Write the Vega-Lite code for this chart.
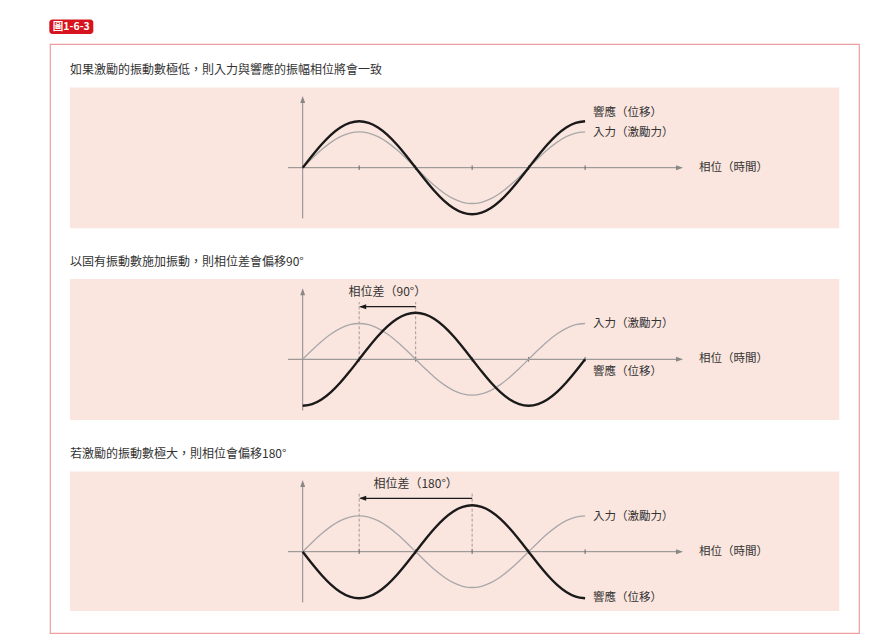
{
"$schema": "https://vega.github.io/schema/vega-lite/v6.json",
"width": 809, "height": 589,
"autosize": "none",
"padding": {"left": 50, "top": 44, "right": 19, "bottom": 10},
"background": "white",
"config": {"view": {"stroke": "#ef9f9f", "strokeWidth": 1.2, "fill": "white"}, "font": "Noto Sans CJK TC"},
"datasets": {
"inp": [{"t":0,"v":0},{"t":15,"v":0.1993},{"t":30,"v":0.385},{"t":45,"v":0.5445},{"t":60,"v":0.6668},{"t":75,"v":0.7437},{"t":90,"v":0.77},{"t":105,"v":0.7437},{"t":120,"v":0.6668},{"t":135,"v":0.5445},{"t":150,"v":0.385},{"t":165,"v":0.1993},{"t":180,"v":0},{"t":195,"v":-0.1993},{"t":210,"v":-0.385},{"t":225,"v":-0.5445},{"t":240,"v":-0.6668},{"t":255,"v":-0.7437},{"t":270,"v":-0.77},{"t":285,"v":-0.7437},{"t":300,"v":-0.6668},{"t":315,"v":-0.5445},{"t":330,"v":-0.385},{"t":345,"v":-0.1993},{"t":360,"v":0},{"t":375,"v":0.1993},{"t":390,"v":0.385},{"t":405,"v":0.5445},{"t":420,"v":0.6668},{"t":435,"v":0.7437},{"t":450,"v":0.77}],
"r1": [{"t":0,"v":0},{"t":15,"v":0.2588},{"t":30,"v":0.5},{"t":45,"v":0.7071},{"t":60,"v":0.866},{"t":75,"v":0.9659},{"t":90,"v":1},{"t":105,"v":0.9659},{"t":120,"v":0.866},{"t":135,"v":0.7071},{"t":150,"v":0.5},{"t":165,"v":0.2588},{"t":180,"v":0},{"t":195,"v":-0.2588},{"t":210,"v":-0.5},{"t":225,"v":-0.7071},{"t":240,"v":-0.866},{"t":255,"v":-0.9659},{"t":270,"v":-1},{"t":285,"v":-0.9659},{"t":300,"v":-0.866},{"t":315,"v":-0.7071},{"t":330,"v":-0.5},{"t":345,"v":-0.2588},{"t":360,"v":0},{"t":375,"v":0.2588},{"t":390,"v":0.5},{"t":405,"v":0.7071},{"t":420,"v":0.866},{"t":435,"v":0.9659},{"t":450,"v":1}],
"r2": [{"t":0,"v":-1},{"t":15,"v":-0.9659},{"t":30,"v":-0.866},{"t":45,"v":-0.7071},{"t":60,"v":-0.5},{"t":75,"v":-0.2588},{"t":90,"v":0},{"t":105,"v":0.2588},{"t":120,"v":0.5},{"t":135,"v":0.7071},{"t":150,"v":0.866},{"t":165,"v":0.9659},{"t":180,"v":1},{"t":195,"v":0.9659},{"t":210,"v":0.866},{"t":225,"v":0.7071},{"t":240,"v":0.5},{"t":255,"v":0.2588},{"t":270,"v":0},{"t":285,"v":-0.2588},{"t":300,"v":-0.5},{"t":315,"v":-0.7071},{"t":330,"v":-0.866},{"t":345,"v":-0.9659},{"t":360,"v":-1},{"t":375,"v":-0.9659},{"t":390,"v":-0.866},{"t":405,"v":-0.7071},{"t":420,"v":-0.5},{"t":435,"v":-0.2588},{"t":450,"v":0}],
"r3": [{"t":0,"v":0},{"t":15,"v":-0.2588},{"t":30,"v":-0.5},{"t":45,"v":-0.7071},{"t":60,"v":-0.866},{"t":75,"v":-0.9659},{"t":90,"v":-1},{"t":105,"v":-0.9659},{"t":120,"v":-0.866},{"t":135,"v":-0.7071},{"t":150,"v":-0.5},{"t":165,"v":-0.2588},{"t":180,"v":0},{"t":195,"v":0.2588},{"t":210,"v":0.5},{"t":225,"v":0.7071},{"t":240,"v":0.866},{"t":255,"v":0.9659},{"t":270,"v":1},{"t":285,"v":0.9659},{"t":300,"v":0.866},{"t":315,"v":0.7071},{"t":330,"v":0.5},{"t":345,"v":0.2588},{"t":360,"v":0},{"t":375,"v":-0.2588},{"t":390,"v":-0.5},{"t":405,"v":-0.7071},{"t":420,"v":-0.866},{"t":435,"v":-0.9659},{"t":450,"v":-1}],
"ticks": [{"t":90},{"t":180},{"t":270},{"t":360},{"t":450}],
"lab1": [{"t":462.6,"v":1.17,"text":"響應（位移）"},{"t":462.6,"v":0.74,"text":"入力（激勵力）"},{"t":631.5,"v":0,"text":"相位（時間）"}],
"lab2": [{"t":462.6,"v":0.753,"text":"入力（激勵力）"},{"t":462.6,"v":-0.267,"text":"響應（位移）"},{"t":631.5,"v":0,"text":"相位（時間）"}],
"lab3": [{"t":462.6,"v":0.753,"text":"入力（激勵力）"},{"t":462.6,"v":-0.989,"text":"響應（位移）"},{"t":631.5,"v":0,"text":"相位（時間）"}],
"dash2": [{"t":90},{"t":180}],
"dash3": [{"t":90},{"t":270}],
"one": [{}]
},
"resolve": {"scale": {"y": "independent"}},
"layer": [
{
"layer": [
{"data": {"name": "one"}, "mark": {"type": "rect", "color": "#fbe6df"},
 "encoding": {"x": {"datum": -370.8, "type": "quantitative", "scale": {"domain": [-402.7, 886.5]}, "axis": null}, "x2": {"datum": 855.1},
 "y": {"datum": -1.303, "type": "quantitative", "scale": {"domain": [-10.0065, 2.6602]}, "axis": null}, "y2": {"datum": 1.725}}},
{"data": {"name": "one"}, "mark": {"type": "text", "align": "left", "baseline": "middle", "fontSize": 12, "color": "#333333"},
 "encoding": {"x": {"datum": -370.8, "type": "quantitative", "scale": {"domain": [-402.7, 886.5]}, "axis": null},
 "y": {"datum": 2.101, "type": "quantitative", "scale": {"domain": [-10.0065, 2.6602]}, "axis": null},
 "text": {"value": "如果激勵的振動數極低，則入力與響應的振幅相位將會一致"}}},
{"data": {"name": "one"}, "mark": {"type": "rect", "color": "#d7141d", "cornerRadius": 3},
 "encoding": {"x": {"datum": -403.8, "type": "quantitative", "scale": {"domain": [-402.7, 886.5]}, "axis": null}, "x2": {"datum": -333.7},
 "y": {"datum": 2.875, "type": "quantitative", "scale": {"domain": [-10.0065, 2.6602]}, "axis": null}, "y2": {"datum": 3.187}}},
{"data": {"name": "one"}, "mark": {"type": "text", "align": "center", "baseline": "middle", "fontSize": 10.5, "fontWeight": "bold", "color": "white"},
 "encoding": {"x": {"datum": -368.8, "type": "quantitative", "scale": {"domain": [-402.7, 886.5]}, "axis": null},
 "y": {"datum": 3.032, "type": "quantitative", "scale": {"domain": [-10.0065, 2.6602]}, "axis": null},
 "text": {"value": "圖1-6-3"}}},
{"data": {"name": "one"}, "mark": {"type": "rule", "color": "#888888", "strokeWidth": 1},
 "encoding": {"x": {"datum": -23.4, "type": "quantitative", "scale": {"domain": [-402.7, 886.5]}, "axis": null}, "x2": {"datum": 601},
 "y": {"datum": 0, "type": "quantitative", "scale": {"domain": [-10.0065, 2.6602]}, "axis": null}}},
{"data": {"name": "one"}, "mark": {"type": "point", "filled": true, "opacity": 1, "color": "#888888", "size": 49, "shape": "M1,0L-1,-0.7L-1,0.7Z"},
 "encoding": {"x": {"datum": 600.5, "type": "quantitative", "scale": {"domain": [-402.7, 886.5]}, "axis": null},
 "y": {"datum": 0, "type": "quantitative", "scale": {"domain": [-10.0065, 2.6602]}, "axis": null}}},
{"data": {"name": "one"}, "mark": {"type": "rule", "color": "#888888", "strokeWidth": 1},
 "encoding": {"x": {"datum": 0, "type": "quantitative", "scale": {"domain": [-402.7, 886.5]}, "axis": null},
 "y": {"datum": -1.09, "type": "quantitative", "scale": {"domain": [-10.0065, 2.6602]}, "axis": null}, "y2": {"datum": 1.47}}},
{"data": {"name": "one"}, "mark": {"type": "point", "filled": true, "opacity": 1, "color": "#888888", "size": 49, "shape": "M0,-1L-0.7,1L0.7,1Z"},
 "encoding": {"x": {"datum": 0, "type": "quantitative", "scale": {"domain": [-402.7, 886.5]}, "axis": null},
 "y": {"datum": 1.467, "type": "quantitative", "scale": {"domain": [-10.0065, 2.6602]}, "axis": null}}},
{"data": {"name": "ticks"}, "mark": {"type": "rule", "color": "#666666", "strokeWidth": 1},
 "encoding": {"x": {"field": "t", "type": "quantitative", "scale": {"domain": [-402.7, 886.5]}, "axis": null},
 "y": {"datum": -0.05, "type": "quantitative", "scale": {"domain": [-10.0065, 2.6602]}, "axis": null}, "y2": {"datum": 0.05}}},
{"data": {"name": "inp"}, "mark": {"type": "line", "interpolate": "monotone", "color": "#a8a8a8", "strokeWidth": 1.3},
 "encoding": {"x": {"field": "t", "type": "quantitative", "scale": {"domain": [-402.7, 886.5]}, "axis": null},
 "y": {"field": "v", "type": "quantitative", "scale": {"domain": [-10.0065, 2.6602]}, "axis": null}}},
{"data": {"name": "r1"}, "mark": {"type": "line", "interpolate": "monotone", "color": "#1a1a1a", "strokeWidth": 2.4},
 "encoding": {"x": {"field": "t", "type": "quantitative", "scale": {"domain": [-402.7, 886.5]}, "axis": null},
 "y": {"field": "v", "type": "quantitative", "scale": {"domain": [-10.0065, 2.6602]}, "axis": null}}},
{"data": {"name": "lab1"}, "mark": {"type": "text", "align": "left", "baseline": "middle", "fontSize": 11.5, "color": "#333333"},
 "encoding": {"x": {"field": "t", "type": "quantitative", "scale": {"domain": [-402.7, 886.5]}, "axis": null},
 "y": {"field": "v", "type": "quantitative", "scale": {"domain": [-10.0065, 2.6602]}, "axis": null},
 "text": {"field": "text"}}}
]
},
{
"layer": [
{"data": {"name": "one"}, "mark": {"type": "rect", "color": "#fbe6df"},
 "encoding": {"x": {"datum": -370.8, "type": "quantitative", "scale": {"domain": [-402.7, 886.5]}, "axis": null}, "x2": {"datum": 855.1},
 "y": {"datum": -1.303, "type": "quantitative", "scale": {"domain": [-5.886, 6.7806]}, "axis": null}, "y2": {"datum": 1.725}}},
{"data": {"name": "one"}, "mark": {"type": "text", "align": "left", "baseline": "middle", "fontSize": 12, "color": "#333333"},
 "encoding": {"x": {"datum": -370.8, "type": "quantitative", "scale": {"domain": [-402.7, 886.5]}, "axis": null},
 "y": {"datum": 2.092, "type": "quantitative", "scale": {"domain": [-5.886, 6.7806]}, "axis": null},
 "text": {"value": "以固有振動數施加振動，則相位差會偏移90°"}}},
{"data": {"name": "one"}, "mark": {"type": "rule", "color": "#888888", "strokeWidth": 1},
 "encoding": {"x": {"datum": -23.4, "type": "quantitative", "scale": {"domain": [-402.7, 886.5]}, "axis": null}, "x2": {"datum": 601},
 "y": {"datum": 0, "type": "quantitative", "scale": {"domain": [-5.886, 6.7806]}, "axis": null}}},
{"data": {"name": "one"}, "mark": {"type": "point", "filled": true, "opacity": 1, "color": "#888888", "size": 49, "shape": "M1,0L-1,-0.7L-1,0.7Z"},
 "encoding": {"x": {"datum": 600.5, "type": "quantitative", "scale": {"domain": [-402.7, 886.5]}, "axis": null},
 "y": {"datum": 0, "type": "quantitative", "scale": {"domain": [-5.886, 6.7806]}, "axis": null}}},
{"data": {"name": "one"}, "mark": {"type": "rule", "color": "#888888", "strokeWidth": 1},
 "encoding": {"x": {"datum": 0, "type": "quantitative", "scale": {"domain": [-402.7, 886.5]}, "axis": null},
 "y": {"datum": -1.1, "type": "quantitative", "scale": {"domain": [-5.886, 6.7806]}, "axis": null}, "y2": {"datum": 1.45}}},
{"data": {"name": "one"}, "mark": {"type": "point", "filled": true, "opacity": 1, "color": "#888888", "size": 49, "shape": "M0,-1L-0.7,1L0.7,1Z"},
 "encoding": {"x": {"datum": 0, "type": "quantitative", "scale": {"domain": [-402.7, 886.5]}, "axis": null},
 "y": {"datum": 1.45, "type": "quantitative", "scale": {"domain": [-5.886, 6.7806]}, "axis": null}}},
{"data": {"name": "ticks"}, "mark": {"type": "rule", "color": "#666666", "strokeWidth": 1},
 "encoding": {"x": {"field": "t", "type": "quantitative", "scale": {"domain": [-402.7, 886.5]}, "axis": null},
 "y": {"datum": -0.05, "type": "quantitative", "scale": {"domain": [-5.886, 6.7806]}, "axis": null}, "y2": {"datum": 0.05}}},
{"data": {"name": "dash2"}, "mark": {"type": "rule", "color": "#888888", "strokeWidth": 0.8, "strokeDash": [3, 2]},
 "encoding": {"x": {"field": "t", "type": "quantitative", "scale": {"domain": [-402.7, 886.5]}, "axis": null},
 "y": {"datum": 0, "type": "quantitative", "scale": {"domain": [-5.886, 6.7806]}, "axis": null}, "y2": {"datum": 1.23}}},
{"data": {"name": "inp"}, "mark": {"type": "line", "interpolate": "monotone", "color": "#a8a8a8", "strokeWidth": 1.3},
 "encoding": {"x": {"field": "t", "type": "quantitative", "scale": {"domain": [-402.7, 886.5]}, "axis": null},
 "y": {"field": "v", "type": "quantitative", "scale": {"domain": [-5.886, 6.7806]}, "axis": null}}},
{"data": {"name": "r2"}, "mark": {"type": "line", "interpolate": "monotone", "color": "#1a1a1a", "strokeWidth": 2.4},
 "encoding": {"x": {"field": "t", "type": "quantitative", "scale": {"domain": [-402.7, 886.5]}, "axis": null},
 "y": {"field": "v", "type": "quantitative", "scale": {"domain": [-5.886, 6.7806]}, "axis": null}}},
{"data": {"name": "one"}, "mark": {"type": "rule", "color": "#1a1a1a", "strokeWidth": 1.3},
 "encoding": {"x": {"datum": 92, "type": "quantitative", "scale": {"domain": [-402.7, 886.5]}, "axis": null}, "x2": {"datum": 180},
 "y": {"datum": 1.131, "type": "quantitative", "scale": {"domain": [-5.886, 6.7806]}, "axis": null}}},
{"data": {"name": "one"}, "mark": {"type": "point", "filled": true, "opacity": 1, "color": "#1a1a1a", "size": 49, "shape": "M-1,0L1,-0.7L1,0.7Z"},
 "encoding": {"x": {"datum": 95.6, "type": "quantitative", "scale": {"domain": [-402.7, 886.5]}, "axis": null},
 "y": {"datum": 1.131, "type": "quantitative", "scale": {"domain": [-5.886, 6.7806]}, "axis": null}}},
{"data": {"name": "one"}, "mark": {"type": "text", "align": "center", "baseline": "middle", "fontSize": 12, "color": "#333333"},
 "encoding": {"x": {"datum": 135, "type": "quantitative", "scale": {"domain": [-402.7, 886.5]}, "axis": null},
 "y": {"datum": 1.455, "type": "quantitative", "scale": {"domain": [-5.886, 6.7806]}, "axis": null},
 "text": {"value": "相位差（90°）"}}},
{"data": {"name": "lab2"}, "mark": {"type": "text", "align": "left", "baseline": "middle", "fontSize": 11.5, "color": "#333333"},
 "encoding": {"x": {"field": "t", "type": "quantitative", "scale": {"domain": [-402.7, 886.5]}, "axis": null},
 "y": {"field": "v", "type": "quantitative", "scale": {"domain": [-5.886, 6.7806]}, "axis": null},
 "text": {"field": "text"}}}
]
},
{
"layer": [
{"data": {"name": "one"}, "mark": {"type": "rect", "color": "#fbe6df"},
 "encoding": {"x": {"datum": -370.8, "type": "quantitative", "scale": {"domain": [-402.7, 886.5]}, "axis": null}, "x2": {"datum": 855.1},
 "y": {"datum": -1.275, "type": "quantitative", "scale": {"domain": [-1.7484, 10.9183]}, "axis": null}, "y2": {"datum": 1.725}}},
{"data": {"name": "one"}, "mark": {"type": "text", "align": "left", "baseline": "middle", "fontSize": 12, "color": "#333333"},
 "encoding": {"x": {"datum": -370.8, "type": "quantitative", "scale": {"domain": [-402.7, 886.5]}, "axis": null},
 "y": {"datum": 2.101, "type": "quantitative", "scale": {"domain": [-1.7484, 10.9183]}, "axis": null},
 "text": {"value": "若激勵的振動數極大，則相位會偏移180°"}}},
{"data": {"name": "one"}, "mark": {"type": "rule", "color": "#888888", "strokeWidth": 1},
 "encoding": {"x": {"datum": -23.4, "type": "quantitative", "scale": {"domain": [-402.7, 886.5]}, "axis": null}, "x2": {"datum": 601},
 "y": {"datum": 0, "type": "quantitative", "scale": {"domain": [-1.7484, 10.9183]}, "axis": null}}},
{"data": {"name": "one"}, "mark": {"type": "point", "filled": true, "opacity": 1, "color": "#888888", "size": 49, "shape": "M1,0L-1,-0.7L-1,0.7Z"},
 "encoding": {"x": {"datum": 600.5, "type": "quantitative", "scale": {"domain": [-402.7, 886.5]}, "axis": null},
 "y": {"datum": 0, "type": "quantitative", "scale": {"domain": [-1.7484, 10.9183]}, "axis": null}}},
{"data": {"name": "one"}, "mark": {"type": "rule", "color": "#888888", "strokeWidth": 1},
 "encoding": {"x": {"datum": 0, "type": "quantitative", "scale": {"domain": [-402.7, 886.5]}, "axis": null},
 "y": {"datum": -1.09, "type": "quantitative", "scale": {"domain": [-1.7484, 10.9183]}, "axis": null}, "y2": {"datum": 1.47}}},
{"data": {"name": "one"}, "mark": {"type": "point", "filled": true, "opacity": 1, "color": "#888888", "size": 49, "shape": "M0,-1L-0.7,1L0.7,1Z"},
 "encoding": {"x": {"datum": 0, "type": "quantitative", "scale": {"domain": [-402.7, 886.5]}, "axis": null},
 "y": {"datum": 1.467, "type": "quantitative", "scale": {"domain": [-1.7484, 10.9183]}, "axis": null}}},
{"data": {"name": "ticks"}, "mark": {"type": "rule", "color": "#666666", "strokeWidth": 1},
 "encoding": {"x": {"field": "t", "type": "quantitative", "scale": {"domain": [-402.7, 886.5]}, "axis": null},
 "y": {"datum": -0.05, "type": "quantitative", "scale": {"domain": [-1.7484, 10.9183]}, "axis": null}, "y2": {"datum": 0.05}}},
{"data": {"name": "dash3"}, "mark": {"type": "rule", "color": "#888888", "strokeWidth": 0.8, "strokeDash": [3, 2]},
 "encoding": {"x": {"field": "t", "type": "quantitative", "scale": {"domain": [-402.7, 886.5]}, "axis": null},
 "y": {"datum": 0, "type": "quantitative", "scale": {"domain": [-1.7484, 10.9183]}, "axis": null}, "y2": {"datum": 1.28}}},
{"data": {"name": "inp"}, "mark": {"type": "line", "interpolate": "monotone", "color": "#a8a8a8", "strokeWidth": 1.3},
 "encoding": {"x": {"field": "t", "type": "quantitative", "scale": {"domain": [-402.7, 886.5]}, "axis": null},
 "y": {"field": "v", "type": "quantitative", "scale": {"domain": [-1.7484, 10.9183]}, "axis": null}}},
{"data": {"name": "r3"}, "mark": {"type": "line", "interpolate": "monotone", "color": "#1a1a1a", "strokeWidth": 2.4},
 "encoding": {"x": {"field": "t", "type": "quantitative", "scale": {"domain": [-402.7, 886.5]}, "axis": null},
 "y": {"field": "v", "type": "quantitative", "scale": {"domain": [-1.7484, 10.9183]}, "axis": null}}},
{"data": {"name": "one"}, "mark": {"type": "rule", "color": "#1a1a1a", "strokeWidth": 1.3},
 "encoding": {"x": {"datum": 92, "type": "quantitative", "scale": {"domain": [-402.7, 886.5]}, "axis": null}, "x2": {"datum": 270},
 "y": {"datum": 1.148, "type": "quantitative", "scale": {"domain": [-1.7484, 10.9183]}, "axis": null}}},
{"data": {"name": "one"}, "mark": {"type": "point", "filled": true, "opacity": 1, "color": "#1a1a1a", "size": 49, "shape": "M-1,0L1,-0.7L1,0.7Z"},
 "encoding": {"x": {"datum": 95.6, "type": "quantitative", "scale": {"domain": [-402.7, 886.5]}, "axis": null},
 "y": {"datum": 1.148, "type": "quantitative", "scale": {"domain": [-1.7484, 10.9183]}, "axis": null}}},
{"data": {"name": "one"}, "mark": {"type": "text", "align": "center", "baseline": "middle", "fontSize": 12, "color": "#333333"},
 "encoding": {"x": {"datum": 180, "type": "quantitative", "scale": {"domain": [-402.7, 886.5]}, "axis": null},
 "y": {"datum": 1.456, "type": "quantitative", "scale": {"domain": [-1.7484, 10.9183]}, "axis": null},
 "text": {"value": "相位差（180°）"}}},
{"data": {"name": "lab3"}, "mark": {"type": "text", "align": "left", "baseline": "middle", "fontSize": 11.5, "color": "#333333"},
 "encoding": {"x": {"field": "t", "type": "quantitative", "scale": {"domain": [-402.7, 886.5]}, "axis": null},
 "y": {"field": "v", "type": "quantitative", "scale": {"domain": [-1.7484, 10.9183]}, "axis": null},
 "text": {"field": "text"}}}
]
}
]
}
